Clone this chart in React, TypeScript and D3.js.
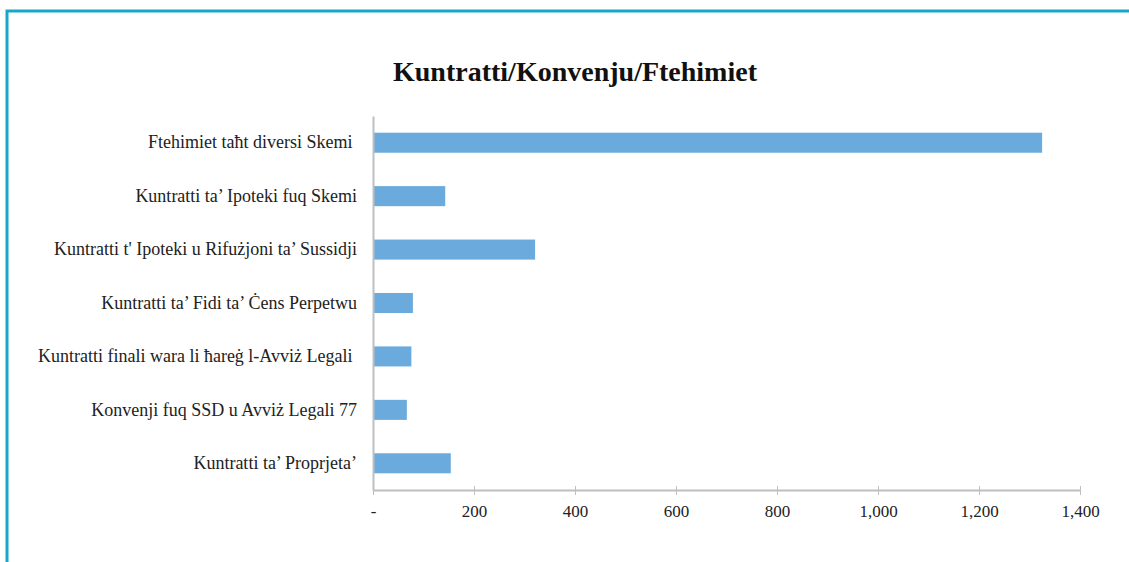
import React, { useRef, useEffect } from "react";
import * as d3 from "d3";

const categories = [
  "Ftehimiet taħt diversi Skemi ",
  "Kuntratti ta’ Ipoteki fuq Skemi",
  "Kuntratti t' Ipoteki u Rifużjoni ta’ Sussidji",
  "Kuntratti ta’ Fidi ta’ Ċens Perpetwu",
  "Kuntratti finali wara li ħareġ l-Avviż Legali ",
  "Konvenji fuq SSD u Avviż Legali 77",
  "Kuntratti ta’ Proprjeta’",
];
const values = [1325, 143, 321, 79, 76, 67, 154];
const xTicks = [0, 200, 400, 600, 800, 1000, 1200, 1400];
const title = "Kuntratti/Konvenju/Ftehimiet";

export default function App() {
  const ref = useRef<HTMLDivElement>(null);

  useEffect(() => {
    const width = 1129;
    const height = 562;
    const margin = { top: 116, right: 49, bottom: 72, left: 373 };
    const font = "'Liberation Serif', 'Times New Roman', serif";

    d3.select(ref.current).selectAll("*").remove();
    const svg = d3
      .select(ref.current)
      .append("svg")
      .attr("width", width)
      .attr("height", height)
      .style("display", "block")
      .style("font-family", font);

    // frame
    svg
      .append("path")
      .attr("d", `M7,${height} L7,11 L${width},11`)
      .attr("fill", "none")
      .attr("stroke", "#17a8c8")
      .attr("stroke-width", 3);

    const x = d3
      .scaleLinear()
      .domain([0, 1400])
      .range([margin.left, width - margin.right]);

    const y = d3
      .scaleBand()
      .domain(categories)
      .range([margin.top, height - margin.bottom])
      .paddingInner(0.625)
      .paddingOuter(0.3125);

    // bars
    svg
      .append("g")
      .selectAll("rect")
      .data(values)
      .join("rect")
      .attr("x", x(0))
      .attr("y", (d, i) => y(categories[i]))
      .attr("width", (d) => x(d) - x(0))
      .attr("height", y.bandwidth())
      .attr("fill", "#6aaadc");

    // x axis
    const xAxis = svg
      .append("g")
      .attr("transform", `translate(0,${height - margin.bottom})`)
      .call(
        d3
          .axisBottom(x)
          .tickValues(xTicks)
          .tickSize(5)
          .tickSizeOuter(0)
          .tickFormat((d) => (d === 0 ? "-" : d3.format(",")(d)))
      );
    xAxis.select(".domain").attr("stroke", "#bfbfbf").attr("stroke-width", 2);
    xAxis
      .selectAll(".tick line")
      .attr("stroke", "#bfbfbf")
      .attr("y1", -4)
      .attr("y2", 5);
    xAxis
      .selectAll(".tick text")
      .attr("y", 15)
      .attr("dy", "0.71em")
      .attr("fill", "#222")
      .style("font-family", font)
      .style("font-size", "17px");

    // y axis
    const yAxis = svg
      .append("g")
      .attr("transform", `translate(${margin.left},0)`)
      .call(d3.axisLeft(y).tickSize(0).tickPadding(16));
    yAxis.select(".domain").attr("stroke", "#bfbfbf").attr("stroke-width", 2);
    yAxis
      .selectAll(".tick text")
      .attr("fill", "#222")
      .style("font-family", font)
      .style("font-size", "18px")
      .style("white-space", "pre");

    // title
    svg
      .append("text")
      .attr("x", 575)
      .attr("y", 81)
      .attr("text-anchor", "middle")
      .attr("fill", "#111")
      .style("font-size", "28px")
      .style("font-weight", "bold")
      .text(title);
  }, []);

  return <div ref={ref} style={{ position: "absolute", left: 0, top: 0 }}></div>;
}
